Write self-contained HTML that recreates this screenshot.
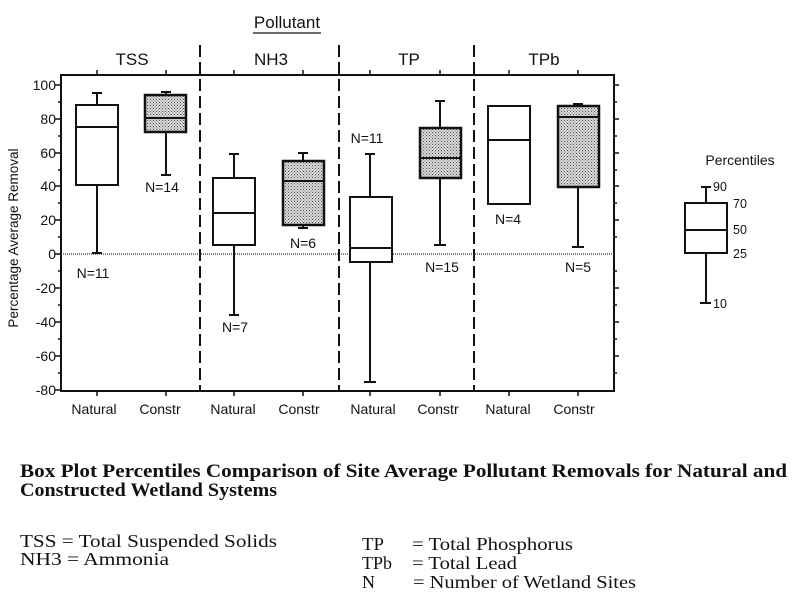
<!DOCTYPE html>
<html><head><meta charset="utf-8"><style>
html,body{margin:0;padding:0;background:#fff;}
svg{display:block;}
text{font-family:"Liberation Sans",sans-serif;fill:#111;}
.s{font-family:"Liberation Serif",serif;}
</style></head><body>
<svg width="800" height="612" viewBox="0 0 800 612" xmlns="http://www.w3.org/2000/svg">
<defs>
<pattern id="dots" width="3" height="3" patternUnits="userSpaceOnUse">
<rect width="3" height="3" fill="#d8d8d8"/><rect width="1" height="1" fill="#555"/><rect x="1.5" y="1.5" width="1" height="1" fill="#777"/>
</pattern>
</defs>
<text x="287" y="28" font-size="17" text-anchor="middle">Pollutant</text>
<line x1="253" y1="33" x2="321" y2="33" stroke="#111" stroke-width="1.3"/>
<text x="132" y="65" font-size="17" text-anchor="middle">TSS</text>
<text x="271" y="65" font-size="17" text-anchor="middle">NH3</text>
<text x="409" y="65" font-size="17" text-anchor="middle">TP</text>
<text x="544" y="65" font-size="17" text-anchor="middle">TPb</text>
<rect x="61" y="75" width="553" height="316" fill="none" stroke="#111" stroke-width="2"/>
<g stroke="#111" stroke-width="2" stroke-dasharray="12,5">
<line x1="200" y1="45" x2="200" y2="392"/>
<line x1="339" y1="45" x2="339" y2="392"/>
<line x1="474" y1="45" x2="474" y2="392"/>
</g>
<line x1="61" y1="254" x2="614" y2="254" stroke="#333" stroke-width="1.2" stroke-dasharray="1,1"/>
<g stroke="#111" stroke-width="1.5">
<line x1="55" y1="85" x2="61" y2="85"/><line x1="55" y1="119" x2="61" y2="119"/><line x1="55" y1="153" x2="61" y2="153"/><line x1="55" y1="186" x2="61" y2="186"/><line x1="55" y1="220" x2="61" y2="220"/><line x1="55" y1="254" x2="61" y2="254"/><line x1="55" y1="288" x2="61" y2="288"/><line x1="55" y1="322" x2="61" y2="322"/><line x1="55" y1="356" x2="61" y2="356"/><line x1="55" y1="390" x2="61" y2="390"/>
<line x1="58" y1="102" x2="61" y2="102"/><line x1="58" y1="136" x2="61" y2="136"/><line x1="58" y1="170" x2="61" y2="170"/><line x1="58" y1="203" x2="61" y2="203"/><line x1="58" y1="237" x2="61" y2="237"/><line x1="58" y1="271" x2="61" y2="271"/><line x1="58" y1="305" x2="61" y2="305"/><line x1="58" y1="339" x2="61" y2="339"/><line x1="58" y1="373" x2="61" y2="373"/>
<line x1="614" y1="85" x2="619" y2="85"/><line x1="614" y1="119" x2="619" y2="119"/><line x1="614" y1="153" x2="619" y2="153"/><line x1="614" y1="186" x2="619" y2="186"/><line x1="614" y1="220" x2="619" y2="220"/><line x1="614" y1="288" x2="619" y2="288"/><line x1="614" y1="322" x2="619" y2="322"/><line x1="614" y1="356" x2="619" y2="356"/>
<line x1="614" y1="102" x2="617" y2="102"/><line x1="614" y1="136" x2="617" y2="136"/><line x1="614" y1="170" x2="617" y2="170"/><line x1="614" y1="203" x2="617" y2="203"/><line x1="614" y1="237" x2="617" y2="237"/><line x1="614" y1="271" x2="617" y2="271"/><line x1="614" y1="305" x2="617" y2="305"/><line x1="614" y1="339" x2="617" y2="339"/><line x1="614" y1="373" x2="617" y2="373"/>
<line x1="97" y1="70" x2="97" y2="75"/><line x1="166" y1="70" x2="166" y2="75"/><line x1="234" y1="70" x2="234" y2="75"/><line x1="303" y1="70" x2="303" y2="75"/><line x1="370" y1="70" x2="370" y2="75"/><line x1="440" y1="70" x2="440" y2="75"/><line x1="509" y1="70" x2="509" y2="75"/><line x1="578" y1="70" x2="578" y2="75"/>
<line x1="97" y1="391" x2="97" y2="396"/><line x1="166" y1="391" x2="166" y2="396"/><line x1="234" y1="391" x2="234" y2="396"/><line x1="303" y1="391" x2="303" y2="396"/><line x1="370" y1="391" x2="370" y2="396"/><line x1="440" y1="391" x2="440" y2="396"/><line x1="509" y1="391" x2="509" y2="396"/><line x1="578" y1="391" x2="578" y2="396"/>
</g>
<g font-size="14" text-anchor="end">
<text x="56" y="90">100</text><text x="56" y="124">80</text><text x="56" y="158">60</text><text x="56" y="191">40</text><text x="56" y="225">20</text><text x="56" y="259">0</text><text x="56" y="293">-20</text><text x="56" y="327">-40</text><text x="56" y="361">-60</text><text x="56" y="395">-80</text>
</g>
<text transform="translate(18,238) rotate(-90)" font-size="13.5" text-anchor="middle">Percentage Average Removal</text>
<g font-size="14" text-anchor="middle">
<text x="94" y="414">Natural</text><text x="160" y="414">Constr</text><text x="233" y="414">Natural</text><text x="299" y="414">Constr</text><text x="373" y="414">Natural</text><text x="438" y="414">Constr</text><text x="508" y="414">Natural</text><text x="574" y="414">Constr</text>
</g>
<g stroke="#111" stroke-width="2" fill="#fff">
<line x1="97" y1="93" x2="97" y2="105"/><line x1="92" y1="93" x2="102" y2="93"/>
<line x1="97" y1="185" x2="97" y2="253"/><line x1="92" y1="253" x2="102" y2="253"/>
<rect x="76" y="105" width="42" height="80"/><line x1="76" y1="127" x2="118" y2="127"/>
<line x1="166" y1="92" x2="166" y2="95"/><line x1="161" y1="92" x2="171" y2="92"/>
<line x1="166" y1="132" x2="166" y2="175"/><line x1="161" y1="175" x2="171" y2="175"/>
<rect x="145" y="95" width="41" height="37" fill="url(#dots)" stroke-width="2.5"/><line x1="145" y1="118" x2="186" y2="118"/>
<line x1="234" y1="154" x2="234" y2="178"/><line x1="229" y1="154" x2="239" y2="154"/>
<line x1="234" y1="245" x2="234" y2="315"/><line x1="229" y1="315" x2="239" y2="315"/>
<rect x="213" y="178" width="42" height="67"/><line x1="213" y1="213" x2="255" y2="213"/>
<line x1="303" y1="153" x2="303" y2="161"/><line x1="298" y1="153" x2="308" y2="153"/>
<line x1="303" y1="225" x2="303" y2="228"/><line x1="298" y1="228" x2="308" y2="228"/>
<rect x="283" y="161" width="41" height="64" fill="url(#dots)" stroke-width="2.5"/><line x1="283" y1="181" x2="324" y2="181"/>
<line x1="370" y1="154" x2="370" y2="197"/><line x1="365" y1="154" x2="375" y2="154"/>
<line x1="370" y1="262" x2="370" y2="382"/><line x1="364" y1="382" x2="376" y2="382"/>
<rect x="350" y="197" width="42" height="65"/><line x1="350" y1="248" x2="392" y2="248"/>
<line x1="440" y1="101" x2="440" y2="128"/><line x1="435" y1="101" x2="445" y2="101"/>
<line x1="440" y1="178" x2="440" y2="245"/><line x1="434" y1="245" x2="446" y2="245"/>
<rect x="420" y="128" width="41" height="50" fill="url(#dots)" stroke-width="2.5"/><line x1="420" y1="158" x2="461" y2="158"/>
<rect x="488" y="106" width="42" height="98"/><line x1="488" y1="140" x2="530" y2="140"/>
<line x1="573" y1="104" x2="583" y2="104"/>
<line x1="578" y1="187" x2="578" y2="247"/><line x1="572" y1="247" x2="584" y2="247"/>
<rect x="558" y="106" width="41" height="81" fill="url(#dots)" stroke-width="2.5"/><line x1="558" y1="117" x2="599" y2="117"/>
<line x1="706" y1="187" x2="706" y2="203"/><line x1="701" y1="187" x2="711" y2="187"/>
<line x1="706" y1="253" x2="706" y2="303"/><line x1="700" y1="303" x2="711" y2="303"/>
<rect x="685" y="203" width="42" height="50"/><line x1="685" y1="230" x2="727" y2="230"/>
</g>
<g font-size="14" text-anchor="middle">
<text x="93" y="278">N=11</text><text x="162" y="192">N=14</text><text x="235" y="332">N=7</text><text x="303" y="248">N=6</text><text x="367" y="143">N=11</text><text x="442" y="272">N=15</text><text x="508" y="224">N=4</text><text x="578" y="272">N=5</text>
</g>
<text x="740" y="165" font-size="14" text-anchor="middle">Percentiles</text>
<g font-size="12.5">
<text x="713" y="191">90</text><text x="733" y="208">70</text><text x="733" y="234">50</text><text x="733" y="258">25</text><text x="713" y="308">10</text>
</g>
<g font-weight="bold" font-size="19">
<text class="s" x="20" y="477" textLength="767" lengthAdjust="spacingAndGlyphs">Box Plot Percentiles Comparison of Site Average Pollutant Removals for Natural and</text>
<text class="s" x="20" y="496" textLength="257" lengthAdjust="spacingAndGlyphs">Constructed Wetland Systems</text>
</g>
<g font-size="18">
<text class="s" x="20" y="547" textLength="257" lengthAdjust="spacingAndGlyphs">TSS  = Total Suspended Solids</text>
<text class="s" x="20" y="565" textLength="149" lengthAdjust="spacingAndGlyphs">NH3  = Ammonia</text>
<text class="s" x="362" y="550" textLength="22" lengthAdjust="spacingAndGlyphs">TP</text><text class="s" x="412" y="550" textLength="161" lengthAdjust="spacingAndGlyphs">= Total Phosphorus</text>
<text class="s" x="362" y="569" textLength="30" lengthAdjust="spacingAndGlyphs">TPb</text><text class="s" x="412" y="569" textLength="105" lengthAdjust="spacingAndGlyphs">= Total Lead</text>
<text class="s" x="362" y="588" textLength="13" lengthAdjust="spacingAndGlyphs">N</text><text class="s" x="413" y="588" textLength="223" lengthAdjust="spacingAndGlyphs">=  Number of Wetland Sites</text>
</g>
</svg>
</body></html>
